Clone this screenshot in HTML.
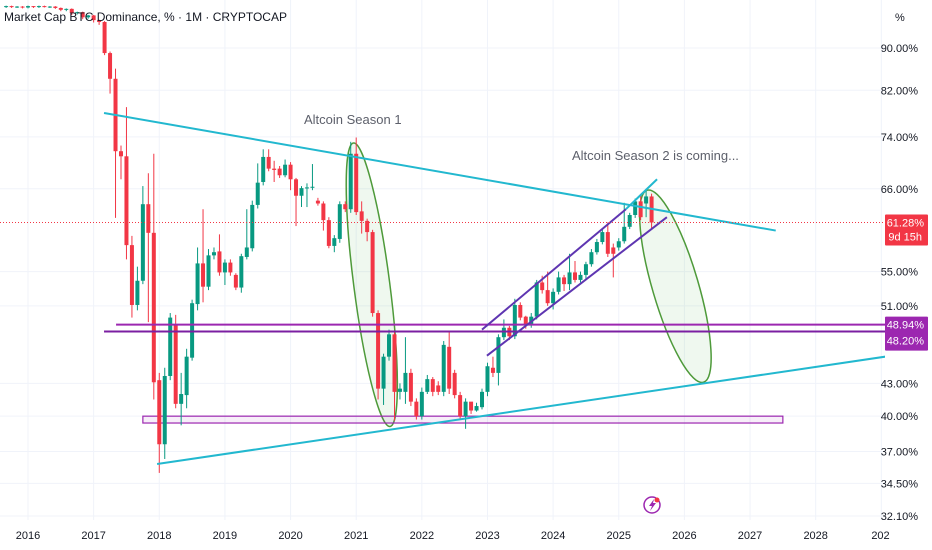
<!DOCTYPE html>
<html><head><meta charset="utf-8"><style>
html,body{margin:0;padding:0;background:#fff;}
#wrap{position:relative;width:932px;height:550px;overflow:hidden;font-family:"Liberation Sans",sans-serif;}
svg text{font-family:"Liberation Sans",sans-serif;}
</style></head><body>
<div id="wrap">
<svg id="chart" width="932" height="550">
<defs><clipPath id="plotclip"><rect x="0" y="0" width="885" height="520"/></clipPath></defs>
<g id="grid"></g>
<g id="drawings-back" clip-path="url(#plotclip)"></g>
<g id="candles" clip-path="url(#plotclip)"></g>
<g id="drawings" clip-path="url(#plotclip)"></g>
<g id="yaxis"></g>
<g id="xaxis"></g>
<text x="4" y="21" font-size="12" fill="#131722">Market Cap BTC Dominance, % · 1M · CRYPTOCAP</text>
<text x="895" y="21" font-size="11" fill="#131722">%</text>
<text x="304" y="124" font-size="13" fill="#5d606b">Altcoin Season 1</text>
<text x="572" y="160" font-size="13" fill="#5d606b">Altcoin Season 2 is coming...</text>
<g>
<circle cx="652" cy="505" r="8" fill="none" stroke="#9c27b0" stroke-width="1.5"/>
<path d="M654 499 L649 506 L652 506 L650 511 L656 503 L653 503 Z" fill="#9c27b0"/>
<circle cx="657" cy="500" r="2.5" fill="#f23645"/>
</g>
</svg>
</div>
<script>
// data: monthly candles starting 2015-09 (month index -4 relative to 2016-01)
const startMonth = -4;
const opens  = [98.5,98.7,98.5,98.6,98.4,98.7,98.5,98.7,98.6, 98.6,98.3,97.9,98.1,97.2,97.4,96.3,96.7,95.7, 95.3,89.0,84.1,71.7,70.9,58.3,51.1,53.9,63.8,59.9,43.3,37.6,43.7,48.9,41.1,41.9,45.5,51.2,56.0,53.2,57.0,57.5,54.9,56.1,54.6,53.1,56.8,57.9,63.7,67.0,70.8,69.0,69.0,68.0,69.6,67.4,65.0,66.1,66.2,64.3,63.9,61.6,58.2,59.1,63.8,63.1,71.3,62.8,61.5,60.0,50.2,42.5,45.6,47.9,42.2,42.2,44.0,41.3,40.0,42.2,43.4,42.8,42.2,46.6,44.0,41.9,40.0,41.3,40.5,40.8,42.2,44.5,44.0,47.6,48.6,47.7,51.1,49.8,48.9,49.8,53.7,52.8,51.3,52.6,54.3,53.5,54.9,54.0,54.6,55.9,57.4,58.7,60.0,58.0,58.0,58.8,60.7,62.3,64.2,63.9,64.9];
const closes = [98.7,98.5,98.6,98.4,98.7,98.5,98.7,98.6,98.6, 98.3,97.9,98.1,97.2,97.4,96.3,96.7,95.7,95.3, 89.0,84.1,71.7,70.9,58.3,51.1,53.9,63.8,59.9,43.1,37.6,43.7,49.7,41.1,42.0,45.6,51.3,56.0,53.2,57.0,57.4,54.9,56.1,54.9,53.1,56.9,58.0,63.7,66.9,70.8,69.0,68.8,68.0,69.6,67.4,65.0,66.1,66.2,66.3,63.9,61.6,58.2,59.2,63.8,63.1,71.3,62.7,61.5,60.0,50.2,42.5,45.6,47.9,42.2,42.5,44.0,41.3,40.0,42.2,43.4,42.2,42.2,46.8,42.5,41.9,40.0,41.3,40.5,40.9,42.2,44.65,44.0,47.6,48.6,47.7,51.1,49.7,48.9,49.8,53.7,52.8,51.3,52.6,54.3,53.5,54.9,54.0,54.6,55.9,57.4,58.7,60.0,57.2,57.2,58.8,60.7,62.3,64.2,62.0,64.9,61.28];
const highs  = [98.8,98.8,98.7,98.7,98.8,98.7,98.8,98.8,98.7, 98.7,98.4,98.2,98.2,97.5,97.5,96.8,96.8,95.8, 95.5,89.3,86.0,72.6,79.0,59.5,55.6,66.4,68.3,71.3,44.0,44.5,50.2,50.0,44.0,46.4,51.7,58.0,63.1,57.8,58.0,59.7,56.5,56.5,54.8,57.2,63.1,64.3,69.8,72.0,72.0,70.2,69.4,70.4,70.0,67.6,66.4,66.8,69.7,64.7,64.2,62.0,59.6,64.2,64.2,73.2,73.9,64.2,61.8,60.3,50.5,45.9,48.4,48.2,43.0,47.6,44.4,41.6,42.6,43.8,43.6,43.2,47.2,48.1,44.3,42.2,41.6,41.0,41.2,42.5,45.0,45.6,47.9,49.5,48.8,51.8,51.4,49.9,50.2,54.0,54.5,55.0,53.0,55.0,54.6,57.2,56.3,55.0,56.2,57.8,59.1,60.4,61.3,58.5,59.2,64.0,62.6,64.6,65.0,66.0,65.3];
const lows   = [98.3,98.3,98.3,98.2,98.2,98.3,98.3,98.4,98.3, 98.1,97.6,97.6,96.8,96.9,95.9,96.0,95.2,94.7, 88.6,81.4,61.9,67.4,56.5,49.7,50.5,53.5,49.2,41.5,35.3,36.4,43.3,40.7,39.2,40.7,45.2,50.5,51.4,52.8,56.5,54.5,53.4,54.5,52.8,52.5,56.5,57.5,63.2,66.5,68.6,67.0,67.6,67.7,65.8,60.8,63.4,63.4,65.8,63.6,60.2,57.9,57.4,58.6,62.7,62.6,62.3,59.8,58.8,49.8,41.5,41.0,45.2,39.6,41.5,41.1,40.9,39.7,39.7,42.0,41.8,41.9,41.8,42.0,41.6,39.7,38.9,40.2,40.4,40.6,41.8,43.6,42.8,47.3,47.3,47.4,49.4,48.5,48.6,49.5,52.4,51.0,50.6,52.3,52.7,52.8,53.7,53.7,54.0,55.6,57.1,58.4,56.8,54.3,57.6,58.5,60.4,61.9,61.6,62.0,60.5];
const yearLabels = ['2016','2017','2018','2019','2020','2021','2022','2023','2024','2025','2026','2027','2028','202'];
const yTickValues = [90,82,74,66,55,51,43,40,37,34.5,32.1];
const yTickLabels = ['90.00%','82.00%','74.00%','66.00%','55.00%','51.00%','43.00%','40.00%','37.00%','34.50%','32.10%'];
const lastPrice = [61.28];
const supportLevels = [48.94, 48.20];

const NS='http://www.w3.org/2000/svg';
function xOf(m){return 28 + m*5.47;}
function yOf(v){return 48 + Math.log(90/v)*454;}
function mk(tag,attrs,parent){const e=document.createElementNS(NS,tag);for(const k in attrs)e.setAttribute(k,attrs[k]);parent.appendChild(e);return e;}

const grid=document.getElementById('grid');
yTickValues.forEach(v=>{
  const l=mk('line',{x1:0,x2:885,y1:yOf(v),y2:yOf(v),stroke:'#f0f3fa','stroke-width':1},grid);
  
  
});
yearLabels.forEach((t,i)=>{
  const x=xOf(i*12);
  const l=mk('line',{x1:x,x2:x,y1:0,y2:520,stroke:'#f0f3fa','stroke-width':1},grid);
  
  
});

const ya=document.getElementById('yaxis');
yTickValues.forEach((v,i)=>{
  const t=mk('text',{x:918,y:yOf(v)+4,'font-size':11,fill:'#131722','text-anchor':'end'},ya);
  t.textContent=yTickLabels[i];
  
  
});
const xa=document.getElementById('xaxis');
yearLabels.forEach((s,i)=>{
  const x=xOf(i*12);
  const t=mk('text',{x:x,y:539,'font-size':11,fill:'#131722','text-anchor':i===yearLabels.length-1?'start':'middle'},xa);
  if(i===yearLabels.length-1) t.setAttribute('x',x-10);
  t.textContent=s;
  
  
});

const db=document.getElementById('drawings-back');
function ellipse(m1,v1,m2,v2,rx,name){
  const x1=xOf(m1),y1=yOf(v1),x2=xOf(m2),y2=yOf(v2);
  const cx=(x1+x2)/2,cy=(y1+y2)/2,len=Math.hypot(x2-x1,y2-y1)/2;
  const ang=Math.atan2(x2-x1,y2-y1)*180/Math.PI;
  const e=mk('ellipse',{cx:cx,cy:cy,rx:rx,ry:len,transform:`rotate(${-ang} ${cx} ${cy})`,fill:'rgba(76,175,80,0.09)',stroke:'#4e9a3a','stroke-width':1.5},db);
  
  
}
ellipse(59.5,73.0,66.2,39.1,18,'season-1-ellipse');
ellipse(113.2,65.8,123.5,43.1,23,'season-2-ellipse');
const rect=mk('rect',{x:xOf(21),y:yOf(40.0),width:xOf(138)-xOf(21),height:yOf(39.4)-yOf(40.0),fill:'rgba(156,39,176,0.08)',stroke:'#9c27b0','stroke-width':1.2},db);



const cg=document.getElementById('candles');
opens.forEach((o,i)=>{
  const m=startMonth+i, c=closes[i], x=xOf(m);
  const col=c>=o?'#089981':'#f23645';
  const w=mk('line',{x1:x,x2:x,y1:yOf(highs[i]),y2:yOf(lows[i]),stroke:col,'stroke-width':1},cg);
  
  
  const top=Math.min(yOf(o),yOf(c)),h=Math.max(1,Math.abs(yOf(o)-yOf(c)));
  const b=mk('rect',{x:x-2,y:top,width:4,height:h,fill:col},cg);
  
  
});

const dg=document.getElementById('drawings');
function seg(m1,v1,m2,v2,col,w,name){
  const l=mk('line',{x1:xOf(m1),y1:yOf(v1),x2:xOf(m2),y2:yOf(v2),stroke:col,'stroke-width':w},dg);
  
  
}
seg(13.9,78.0,136.7,60.2,'#22b8cf',2,'upper-trendline');
seg(23.6,36.0,156.7,45.6,'#22b8cf',2,'lower-trendline');
seg(16.1,48.94,157,48.94,'#9c27b0',2,'resistance-line-48-94');
seg(13.9,48.20,157,48.20,'#7b1fa2',2,'resistance-line-48-20');
seg(83.0,48.4,109.3,63.1,'#5e35b1',2,'channel-upper-line');
seg(109.3,63.1,115.0,67.4,'#22b8cf',2,'channel-upper-extension');
seg(83.9,45.7,116.8,62.0,'#5e35b1',2,'channel-lower-line');
const pl=mk('line',{x1:0,x2:885,y1:yOf(lastPrice[0]),y2:yOf(lastPrice[0]),stroke:'#f23645','stroke-width':1,'stroke-dasharray':'1 2'},dg);



const svg=document.getElementById('chart');
const py=yOf(lastPrice[0]);
const lbl=mk('rect',{x:885,y:py-8,width:43,height:31,fill:'#f23645',rx:1},svg);


const t1=mk('text',{x:924,y:py+4,'font-size':11,fill:'#fff','text-anchor':'end'},svg);
t1.textContent=lastPrice[0].toFixed(2)+'%';


const t2=mk('text',{x:922,y:py+18,'font-size':11,fill:'#fff','text-anchor':'end'},svg);
t2.textContent='9d 15h';


const sy=yOf(supportLevels[0]);
const sl=mk('rect',{x:885,y:sy-8,width:43,height:34,fill:'#9c27b0',rx:1},svg);


supportLevels.forEach((v,i)=>{
  const t=mk('text',{x:924,y:sy+4+i*16,'font-size':11,fill:'#fff','text-anchor':'end'},svg);
  t.textContent=v.toFixed(2)+'%';
  
  
});
</script>
</body></html>
